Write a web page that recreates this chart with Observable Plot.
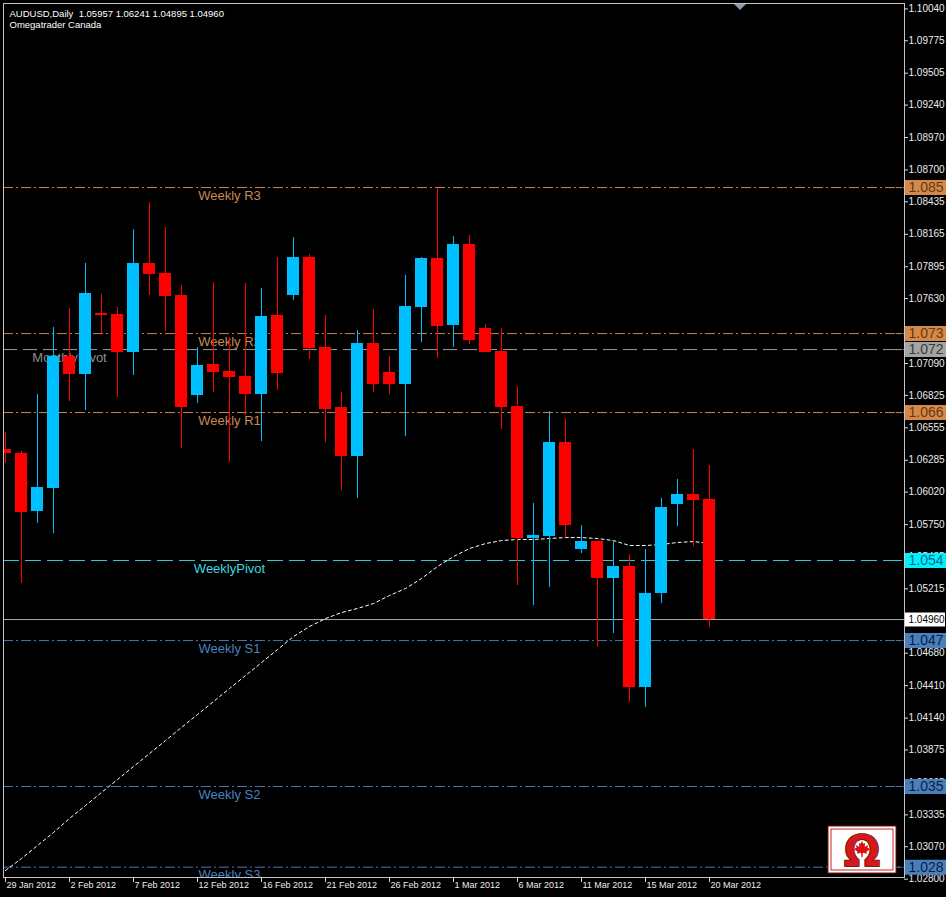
<!DOCTYPE html>
<html><head><meta charset="utf-8">
<script src="https://cdn.jsdelivr.net/npm/d3@7"></script>
<script src="https://cdn.jsdelivr.net/npm/@observablehq/plot@0.6"></script>
<style>html,body{margin:0;padding:0;background:#000;overflow:hidden}#chart svg{display:block}</style>
</head><body><div id="chart"></div>
<script>
// ---------- data ----------
const symbolName = "AUDUSD,Daily";
const brokerName = "Omegatrader Canada";
const barDates = ["2012-01-29","2012-01-30","2012-01-31","2012-02-01","2012-02-02","2012-02-03","2012-02-05","2012-02-06","2012-02-07","2012-02-08","2012-02-09","2012-02-10","2012-02-12","2012-02-13","2012-02-14","2012-02-15","2012-02-16","2012-02-17","2012-02-19","2012-02-20","2012-02-21","2012-02-22","2012-02-23","2012-02-24","2012-02-26","2012-02-27","2012-02-28","2012-02-29","2012-03-01","2012-03-02","2012-03-04","2012-03-05","2012-03-06","2012-03-07","2012-03-08","2012-03-09","2012-03-11","2012-03-12","2012-03-13","2012-03-14","2012-03-15","2012-03-16","2012-03-18","2012-03-19","2012-03-20"];
const openPrices  = [1.06374,1.06341,1.05858,1.06050,1.07148,1.06998,1.07506,1.07497,1.07181,1.07922,1.07838,1.07655,1.06823,1.07081,1.07023,1.06982,1.06832,1.07489,1.07655,1.07972,1.07223,1.06724,1.06316,1.07256,1.07015,1.06915,1.07556,1.07963,1.07406,1.08080,1.07381,1.07190,1.06732,1.05634,1.05651,1.06433,1.05542,1.05609,1.05301,1.05401,1.04394,1.05176,1.05917,1.06000,1.05957];
const highPrices  = [1.06516,1.06358,1.06832,1.07389,1.07547,1.07922,1.07664,1.07556,1.08204,1.08429,1.08221,1.07739,1.07223,1.07764,1.07306,1.07755,1.07714,1.07972,1.08138,1.07996,1.07489,1.06848,1.07364,1.07539,1.07148,1.07822,1.07972,1.08546,1.08146,1.08155,1.07414,1.07381,1.06898,1.05925,1.06690,1.06632,1.05742,1.05609,1.05609,1.05501,1.05542,1.05967,1.06125,1.06374,1.06241];
const lowPrices   = [1.06258,1.05260,1.05759,1.05675,1.06774,1.06699,1.07339,1.06807,1.06990,1.07655,1.07356,1.06383,1.06757,1.06848,1.06266,1.06657,1.06441,1.06865,1.07614,1.07123,1.06433,1.06033,1.05967,1.06848,1.06832,1.06482,1.07264,1.07131,1.07223,1.07248,1.07181,1.06541,1.05243,1.05077,1.05226,1.05642,1.05509,1.04727,1.04844,1.04270,1.04228,1.05093,1.05734,1.05567,1.04895];
const closePrices = [1.06341,1.05850,1.06058,1.07148,1.06998,1.07672,1.07489,1.07181,1.07922,1.07830,1.07647,1.06724,1.07073,1.07015,1.06973,1.06832,1.07481,1.07007,1.07972,1.07214,1.06707,1.06316,1.07256,1.06915,1.06915,1.07564,1.07963,1.07398,1.08080,1.07281,1.07181,1.06724,1.05634,1.05659,1.06433,1.05742,1.05609,1.05301,1.05401,1.04394,1.05176,1.05892,1.06000,1.05950,1.04960];
const maValues    = [1.02872,1.02972,1.03080,1.03188,1.03305,1.03413,1.03521,1.03629,1.03737,1.03845,1.03953,1.04062,1.04170,1.04278,1.04386,1.04494,1.04602,1.04710,1.04819,1.04902,1.04968,1.05018,1.05052,1.05093,1.05160,1.05218,1.05301,1.05401,1.05484,1.05551,1.05592,1.05617,1.05626,1.05626,1.05634,1.05642,1.05642,1.05634,1.05617,1.05576,1.05576,1.05584,1.05601,1.05609,1.05592];

const levelNames  = ["Weekly R3","Weekly R2","MonthlyPivot","Weekly R1","WeeklyPivot","Weekly S1","Weekly S2","Weekly S3"];
const levelValues = [1.08554,1.07339,1.07206,1.06682,1.05451,1.04785,1.03571,1.02900];
const levelTags   = ["1.085","1.073","1.072","1.066","1.054","1.047","1.035","1.028"];
const levelKinds  = ["R","R","M","R","P","S","S","S"];

const lastPrice = 1.04960;
const priceTicks = [1.10040,1.09775,1.09505,1.09240,1.08970,1.08700,1.08435,1.08165,1.07895,1.07630,1.07090,1.06825,1.06555,1.06285,1.06020,1.05750,1.05485,1.05215,1.04680,1.04410,1.04140,1.03875,1.03605,1.03335,1.03070,1.02800];
const dateTickIndex  = [0,4,8,12,16,20,24,28,32,36,40,44];
const dateTickLabels = ["29 Jan 2012","2 Feb 2012","7 Feb 2012","12 Feb 2012","16 Feb 2012","21 Feb 2012","26 Feb 2012","1 Mar 2012","6 Mar 2012","11 Mar 2012","15 Mar 2012","20 Mar 2012"];

// ---------- layout / style ----------
const W = 946, H = 897, mT = 3, mR = 42, mB = 20, mL = 3;
const innerW = W - mL - mR, innerH = H - mT - mB;
const barPx = 16;
const xDomain = [-2 / barPx, -2 / barPx + innerW / barPx];
const yDomain = [1.02814, 1.10085];
const BLUE = "#00bfff", RED = "#ff0000";
const FONT = "'Liberation Sans', Arial, sans-serif";

const kindStyle = {
  R: {line: "#c8864e", text: "#c58a58", box: "#d4884a", boxText: "#6b3810", dash: "10,3,2,3", bar: 14},
  M: {line: "#9c9c9c", text: "#8e8e8e", box: "#a4a4a4", boxText: "#3a3a3a", dash: "14,6", bar: 4},
  P: {line: "#38c8d0", text: "#3fd8e0", box: "#00f0ff", boxText: "#0b6a80", dash: "16,6", bar: 14},
  S: {line: "#4679b0", text: "#4b80bf", box: "#4a7fbd", boxText: "#0e1e3a", dash: "10,3,2,3", bar: 14}
};

const rows = barDates.map((d, i) => ({i, date: d, o: openPrices[i], h: highPrices[i], l: lowPrices[i], c: closePrices[i], ma: maValues[i]}));
const levels = levelNames.map((name, k) => ({name, value: levelValues[k], tag: levelTags[k], kind: levelKinds[k]}));
const last = rows[rows.length - 1];
const titleLine = symbolName + "\u00a0 " + [last.o, last.h, last.l, last.c].map(v => v.toFixed(5)).join(" ");
const candleColor = d => d.c >= d.o ? BLUE : RED;

const marks = [];
// level labels (behind everything)
marks.push(Plot.text(levels, {x: d => kindStyle[d.kind].bar, y: "value", text: "name", fill: d => kindStyle[d.kind].text, dy: 8, fontSize: 13, clip: true}));
// level lines
for (const [kind, st] of Object.entries(kindStyle)) {
  marks.push(Plot.ruleY(levels.filter(d => d.kind === kind), {y: "value", stroke: st.line, strokeDasharray: st.dash, strokeWidth: 1}));
}
// current price line
marks.push(Plot.ruleY([lastPrice], {y: d => d, stroke: "#a8a8a8", strokeWidth: 1}));
// moving average
marks.push(Plot.line(rows, {x: "i", y: "ma", stroke: "#ffffff", strokeWidth: 1, strokeDasharray: "3,3", clip: true}));
// candles
marks.push(Plot.ruleX(rows, {x: "i", y1: "l", y2: "h", stroke: candleColor, strokeWidth: 1, clip: true}));
marks.push(Plot.rect(rows, {x1: d => d.i - 0.35, x2: d => d.i + 0.35, y1: "o", y2: "c", fill: candleColor, shapeRendering: "crispEdges", clip: true}));
// frame
marks.push(Plot.frame({stroke: "#c4c4c4"}));
// right price axis
marks.push(Plot.ruleY(priceTicks, {y: d => d, stroke: "#dcdcdc", insetLeft: innerW, insetRight: -4}));
marks.push(Plot.text(priceTicks, {y: d => d, text: d => d.toFixed(5), frameAnchor: "right", dx: 4, textAnchor: "start", fill: "#ececec", fontSize: 10}));
// level tags on axis
marks.push(Plot.ruleY(levels, {y: "value", stroke: d => kindStyle[d.kind].line, insetLeft: innerW - 8, insetRight: 2}));
marks.push(Plot.ruleY(levels, {y: "value", stroke: d => kindStyle[d.kind].box, strokeWidth: 15, insetLeft: innerW + 1, insetRight: -42}));
marks.push(Plot.text(levels, {y: "value", text: "tag", fill: d => kindStyle[d.kind].boxText, frameAnchor: "right", dx: 4, textAnchor: "start", fontSize: 14}));
marks.push(Plot.ruleY([lastPrice], {y: d => d, stroke: "#ffffff", strokeWidth: 14, insetLeft: innerW + 1, insetRight: -41}));
marks.push(Plot.text([lastPrice], {y: d => d, text: d => d.toFixed(5), fill: "#000", frameAnchor: "right", dx: 4, textAnchor: "start", fontSize: 10}));
// bottom date axis
marks.push(Plot.ruleX(dateTickIndex, {x: d => d, stroke: "#dcdcdc", insetTop: innerH, insetBottom: -5}));
marks.push(Plot.text(dateTickIndex, {x: d => d, text: (d, k) => dateTickLabels[k], frameAnchor: "bottom", dy: 10, dx: 1, textAnchor: "start", fill: "#ececec", fontSize: 9}));
// title lines
marks.push(Plot.text([titleLine], {text: d => d, frameAnchor: "top-left", dx: 6, dy: 10, lineAnchor: "middle", textAnchor: "start", fill: "#ffffff", fontSize: 9.5}));
marks.push(Plot.text([brokerName], {text: d => d, frameAnchor: "top-left", dx: 6, dy: 21, lineAnchor: "middle", textAnchor: "start", fill: "#ffffff", fontSize: 9.5}));

const chart = Plot.plot({
  width: W, height: H,
  marginTop: mT, marginRight: mR, marginBottom: mB, marginLeft: mL,
  x: {type: "linear", domain: xDomain, axis: null},
  y: {type: "linear", domain: yDomain, axis: null},
  color: {type: "identity"},
  style: {background: "#000", fontFamily: FONT, color: "#fff"},
  marks
});
document.getElementById("chart").appendChild(chart);

// decorative: chart-shift marker and logo
const svg = d3.select(chart);
svg.append("polygon").attr("points", "734,4 746,4 740,10").attr("fill", "#8a9aa8");
const g = svg.append("g").attr("transform", "translate(828,826)");
g.append("rect").attr("x", 0).attr("y", 0).attr("width", 68).attr("height", 47).attr("fill", "#ffffff").attr("stroke", "#7a1010").attr("stroke-width", 1);
g.append("rect").attr("x", 3).attr("y", 3).attr("width", 62).attr("height", 41).attr("fill", "none").attr("stroke", "#d02020").attr("stroke-width", 1);
g.append("text").attr("x", 34).attr("y", 41).attr("text-anchor", "middle").attr("font-family", "'DejaVu Sans', sans-serif").attr("font-weight", "bold").attr("font-size", 44).attr("fill", "#d81818").attr("stroke", "#300").attr("stroke-width", 0.6).text("Ω");
const leaf = [[0,-1],[0.15,-0.7],[0.35,-0.78],[0.3,-0.35],[0.7,-0.55],[0.6,-0.25],[0.92,-0.1],[0.5,0.2],[0.56,0.42],[0.1,0.3],[0.06,0.8],[-0.06,0.8],[-0.1,0.3],[-0.56,0.42],[-0.5,0.2],[-0.92,-0.1],[-0.6,-0.25],[-0.7,-0.55],[-0.3,-0.35],[-0.35,-0.78],[-0.15,-0.7]];
g.append("polygon").attr("points", leaf.map(([a, b]) => `${34 + a * 9},${24 + b * 9}`).join(" ")).attr("fill", "#e01010");
</script>
</body></html>
